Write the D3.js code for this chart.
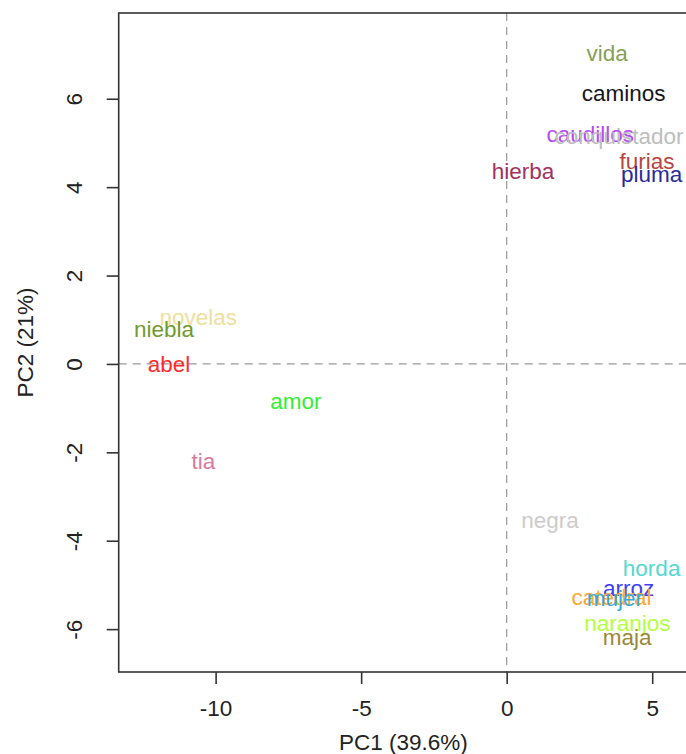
<!DOCTYPE html>
<html>
<head>
<meta charset="utf-8">
<script src="https://cdn.jsdelivr.net/npm/d3@7"></script>
<style>
  body { margin: 0; background: #fff; overflow: hidden; }
  svg text { font-family: "Liberation Sans", Arial, Helvetica, sans-serif; }
</style>
</head>
<body>
<svg id="chart"></svg>
<script>
// Word labels and their PCA scores
const words = ["vida", "caminos", "caudillos", "conquistador", "furias", "pluma", "hierba",
               "novelas", "niebla", "abel", "amor", "tia", "negra",
               "horda", "arroz", "catedral", "mujer", "naranjos", "maja"];
const pc1 = [3.45, 4.02, 2.87, 3.86, 4.82, 4.98, 0.56,
             -10.6, -11.77, -11.6, -7.24, -10.42, 1.49,
             4.98, 4.19, 3.60, 3.72, 4.15, 4.14];
const pc2 = [7.04, 6.13, 5.20, 5.16, 4.59, 4.30, 4.37,
             1.06, 0.79, 0.0, -0.84, -2.19, -3.53,
             -4.62, -5.07, -5.27, -5.29, -5.86, -6.18];
const wordColors = ["#86a05a", "#151520", "#b648f5", "#bdbdbd", "#b8453e", "#2a2a9a", "#a3305e",
                    "#eee0a0", "#6f9a2f", "#ff2a2a", "#33ee33", "#d87a9a", "#cccccc",
                    "#55d8d2", "#3f3ff5", "#ffa733", "#33aadd", "#b4ff40", "#9a8838"];

const xTicks = [-10, -5, 0, 5];
const yTicks = [-6, -4, -2, 0, 2, 4, 6];
const xTitle = "PC1 (39.6%)";
const yTitle = "PC2 (21%)";

// plot region
const W = 686, H = 754;
const plot = { left: 118.7, right: 688, top: 13, bottom: 672 };
const fontSize = 22.5;

const svg = d3.select("#chart").attr("width", W).attr("height", H);

const x = d3.scaleLinear().domain([-13.33, 6.23]).range([plot.left, plot.right]);
const y = d3.scaleLinear().domain([-6.97, 7.94]).range([plot.bottom, plot.top]);

// dashed reference lines
svg.append("line")
  .attr("x1", x(0)).attr("x2", x(0))
  .attr("y1", plot.top).attr("y2", plot.bottom)
  .attr("stroke", "#999").attr("stroke-width", 1.2).attr("stroke-dasharray", "8,6");
svg.append("line")
  .attr("x1", plot.left).attr("x2", plot.right)
  .attr("y1", y(0)).attr("y2", y(0))
  .attr("stroke", "#999").attr("stroke-width", 1.2).attr("stroke-dasharray", "8,6");

// word labels
const data = words.map((w, i) => ({ word: w, x: pc1[i], y: pc2[i], color: wordColors[i] }));
svg.append("g").selectAll("text")
  .data(data)
  .enter()
  .append("text")
  .attr("x", d => x(d.x))
  .attr("y", d => y(d.y))
  .attr("dy", "0.35em")
  .attr("text-anchor", "middle")
  .attr("font-size", fontSize)
  .attr("fill", d => d.color)
  .text(d => d.word);

// box
svg.append("rect")
  .attr("x", plot.left).attr("y", plot.top)
  .attr("width", plot.right - plot.left).attr("height", plot.bottom - plot.top)
  .attr("fill", "none").attr("stroke", "#333").attr("stroke-width", 1.6);

// axes (R style: plain hyphen minus)
const fmt = d => String(d);
const xAxis = svg.append("g")
  .attr("transform", `translate(0,${plot.bottom})`)
  .call(d3.axisBottom(x).tickValues(xTicks).tickSize(12).tickPadding(16).tickFormat(fmt));
const yAxis = svg.append("g")
  .attr("transform", `translate(${plot.left},0)`)
  .call(d3.axisLeft(y).tickValues(yTicks).tickSize(12).tickPadding(16).tickFormat(fmt));

[xAxis, yAxis].forEach(g => {
  g.select(".domain").remove();
  g.selectAll(".tick line").attr("stroke", "#333").attr("stroke-width", 1.6);
  g.selectAll(".tick text").attr("font-size", fontSize).attr("fill", "#222")
    .attr("font-family", "'Liberation Sans', Arial, sans-serif");
});
xAxis.selectAll(".tick text").attr("dy", "0.71em");
yAxis.selectAll(".tick text")
  .attr("text-anchor", "middle")
  .attr("x", null).attr("dy", null)
  .attr("transform", "translate(-37,0) rotate(-90)");

// axis titles
svg.append("text")
  .attr("x", (plot.left + plot.right) / 2).attr("y", 742)
  .attr("dy", "0.35em")
  .attr("text-anchor", "middle").attr("font-size", fontSize).attr("fill", "#222")
  .text(xTitle);
svg.append("text")
  .attr("transform", `translate(25,${(plot.top + plot.bottom) / 2}) rotate(-90)`)
  .attr("dy", "0.35em")
  .attr("text-anchor", "middle").attr("font-size", fontSize).attr("fill", "#222")
  .text(yTitle);
</script>
</body>
</html>
